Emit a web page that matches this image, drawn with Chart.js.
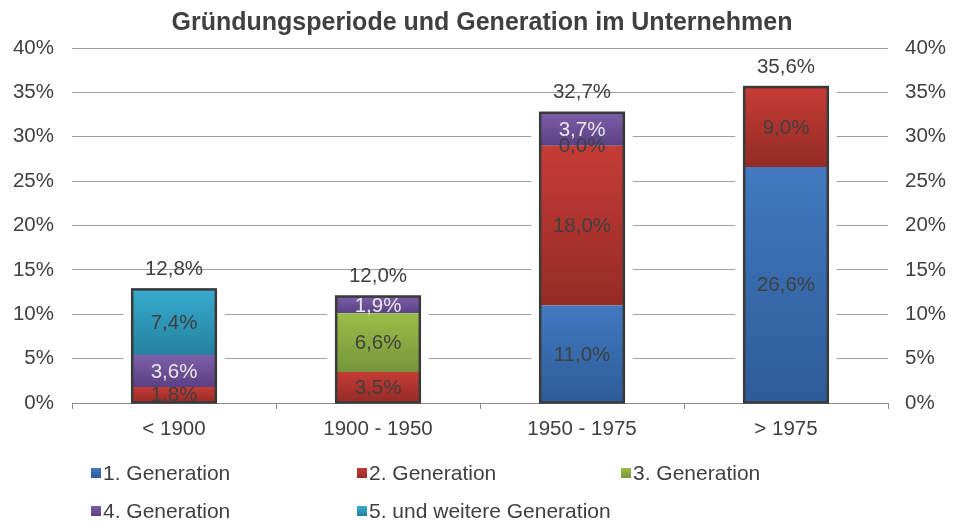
<!DOCTYPE html>
<html>
<head>
<meta charset="utf-8">
<script src="https://cdn.jsdelivr.net/npm/chart.js@4/dist/chart.umd.min.js"></script>
<style>
  html, body { margin: 0; padding: 0; background: #ffffff; }
  canvas { display: block; }
</style>
</head>
<body>
<canvas id="c" width="962" height="522"></canvas>
<script>
// ---- data ----
const categories = ['< 1900', '1900 - 1950', '1950 - 1975', '> 1975'];
const seriesNames = ['1. Generation', '2. Generation', '3. Generation', '4. Generation', '5. und weitere Generation'];
const gen1 = [null, null, 11.0, 26.6];
const gen2 = [1.8, 3.5, 18.0, 9.0];
const gen3 = [null, 6.6, 0.0, null];
const gen4 = [3.6, 1.9, 3.7, null];
const gen5 = [7.4, null, null, null];
const totals = [12.8, 12.0, 32.7, 35.6];
const yMin = 0, yMax = 40, yStep = 5;
const title = 'Gründungsperiode und Generation im Unternehmen';

// ---- styles ----
const seriesData = [gen1, gen2, gen3, gen4, gen5];
const colTop = ['#4279c0', '#c63c36', '#9cbc48', '#7e5fa9', '#36abcf'];
const colBot = ['#2d5c98', '#952b26', '#76953a', '#5a4084', '#26819f'];
const labelColors = ['#404040', '#404040', '#404040', '#e8e8e8', '#404040'];
const FONT = "'Liberation Sans', Arial, sans-serif";
const TEXT = '#404040';

function fmt(v) { return v.toFixed(1).replace('.', ',') + '%'; }

function bg(di) {
  return function (ctx) {
    if (ctx.type !== 'data') return colTop[di];
    const chart = ctx.chart, ys = chart.scales.y;
    if (!ys || !chart.chartArea) return colTop[di];
    const i = ctx.dataIndex;
    let start = 0;
    for (let d = 0; d < di; d++) start += (seriesData[d][i] || 0);
    const end = start + (seriesData[di][i] || 0);
    const y0 = ys.getPixelForValue(end), y1 = ys.getPixelForValue(start);
    if (y1 - y0 < 1) return colTop[di];
    const g = chart.ctx.createLinearGradient(0, y0, 0, y1);
    g.addColorStop(0, colTop[di]);
    g.addColorStop(1, colBot[di]);
    return g;
  };
}

const datasets = seriesData.map((arr, di) => ({
  label: seriesNames[di],
  data: arr,
  backgroundColor: bg(di),
  borderWidth: 0,
  barPercentage: 0.41,
  categoryPercentage: 1.0
}));

function stackBoxes(chart) {
  const boxes = [];
  for (let i = 0; i < categories.length; i++) {
    let top = Infinity, base = -Infinity, x = null, w = null;
    chart.data.datasets.forEach((ds, di) => {
      const v = ds.data[i];
      if (v === null || v === undefined) return;
      const el = chart.getDatasetMeta(di).data[i];
      if (!el) return;
      top = Math.min(top, el.y, el.base);
      base = Math.max(base, el.y, el.base);
      x = el.x; w = el.width;
    });
    if (x !== null) boxes.push({ i, x, w, top, base });
  }
  return boxes;
}

const decor = {
  id: 'decor',
  beforeDatasetsDraw(chart) {
    const ctx = chart.ctx;
    ctx.save();
    ctx.fillStyle = '#ffffff';
    stackBoxes(chart).forEach(b => {
      ctx.fillRect(b.x - b.w / 2 - 9, b.top - 6, b.w + 18, b.base - b.top + 5);
    });
    ctx.restore();
  },
  afterDatasetsDraw(chart) {
    const ctx = chart.ctx;
    ctx.save();
    ctx.strokeStyle = '#3a3a3a';
    ctx.lineWidth = 2.5;
    stackBoxes(chart).forEach(b => {
      ctx.strokeRect(b.x - b.w / 2, b.top, b.w, b.base - b.top);
    });
    ctx.font = '20.5px ' + FONT;
    ctx.textAlign = 'center';
    ctx.textBaseline = 'middle';
    chart.data.datasets.forEach((ds, di) => {
      const meta = chart.getDatasetMeta(di);
      ds.data.forEach((v, i) => {
        if (v === null || v === undefined) return;
        const el = meta.data[i];
        ctx.fillStyle = labelColors[di];
        ctx.fillText(fmt(v), el.x, (el.y + el.base) / 2 + 1);
      });
    });
    ctx.fillStyle = TEXT;
    stackBoxes(chart).forEach(b => {
      ctx.fillText(fmt(totals[b.i]), b.x, b.top - 20);
    });
    ctx.restore();
  },
  afterDraw(chart) {
    const ctx = chart.ctx;
    ctx.save();
    ctx.fillStyle = TEXT;
    ctx.font = 'bold 25px ' + FONT;
    ctx.textAlign = 'center';
    ctx.textBaseline = 'middle';
    ctx.fillText(title, 482, 23);
    const cols = [91, 357, 621];
    const rows = [473, 511];
    ctx.font = '21px ' + FONT;
    ctx.textAlign = 'left';
    seriesNames.forEach((name, k) => {
      const x = cols[k % 3], y = rows[Math.floor(k / 3)];
      const g = ctx.createLinearGradient(0, y - 5, 0, y + 5);
      g.addColorStop(0, colTop[k]);
      g.addColorStop(1, colBot[k]);
      ctx.fillStyle = g;
      ctx.fillRect(x, y - 5, 10, 10);
      ctx.fillStyle = TEXT;
      ctx.fillText(name, x + 12, y + 1);
    });
    ctx.restore();
  }
};

new Chart(document.getElementById('c'), {
  type: 'bar',
  data: { labels: categories, datasets },
  options: {
    responsive: false,
    animation: false,
    devicePixelRatio: 1,
    layout: { padding: { top: 48, bottom: 79, left: 0, right: 0 } },
    plugins: {
      legend: { display: false },
      title: { display: false },
      tooltip: { enabled: false }
    },
    scales: {
      x: {
        stacked: true,
        grid: { display: true, drawOnChartArea: false, drawTicks: true, tickLength: 6, color: '#8c8c8c', offset: true },
        border: { display: true, color: '#8c8c8c', width: 1 },
        ticks: { color: TEXT, font: { family: FONT, size: 20.5 }, padding: 8 },
        afterFit(s) { s.height = 40; }
      },
      y: {
        stacked: true,
        position: 'left',
        min: yMin, max: yMax,
        grid: { color: '#a0a0a0', lineWidth: 1, drawTicks: false },
        border: { display: false },
        ticks: { stepSize: yStep, color: TEXT, font: { family: FONT, size: 20.5 }, padding: 18,
                 callback: v => v + '%' },
        afterFit(s) { s.width = 72; }
      },
      y2: {
        position: 'right',
        min: yMin, max: yMax,
        grid: { drawOnChartArea: false, drawTicks: false },
        border: { display: false },
        ticks: { stepSize: yStep, color: TEXT, font: { family: FONT, size: 20.5 }, padding: 17,
                 callback: v => v + '%' },
        afterFit(s) { s.width = 74; }
      }
    }
  },
  plugins: [decor]
});
</script>
</body>
</html>
